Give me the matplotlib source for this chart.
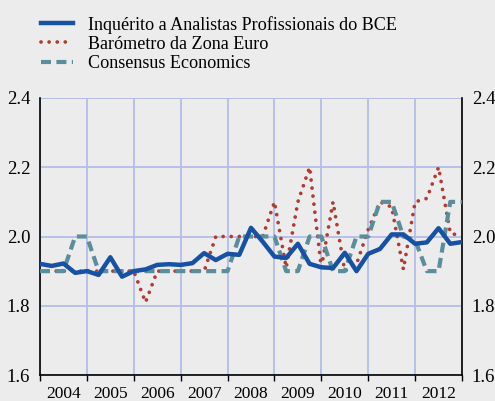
import numpy as np
import matplotlib
matplotlib.use('Agg')
import matplotlib.pyplot as plt

plt.rcParams['font.family'] = ['Liberation Serif', 'DejaVu Serif']

# quarterly observations, 2004 Q1 .. 2013 Q1
years = [2004, 2005, 2006, 2007, 2008, 2009, 2010, 2011, 2012]
spf = [1.921, 1.915, 1.922, 1.895, 1.900, 1.889, 1.940, 1.884, 1.900, 1.905,
       1.918, 1.920, 1.918, 1.923, 1.952, 1.932, 1.950, 1.947, 2.025, 1.985,
       1.942, 1.938, 1.979, 1.921, 1.911, 1.909, 1.953, 1.900, 1.950, 1.964,
       2.006, 2.006, 1.979, 1.983, 2.024, 1.979, 1.984]
barometer = [1.90, 1.90, 1.90, 1.90, 1.90, 1.90, 1.90, 1.90, 1.90, 1.81,
             1.90, 1.90, 1.90, 1.90, 1.90, 2.00, 2.00, 2.00, 2.00, 2.00,
             2.10, 1.91, 2.10, 2.20, 1.91, 2.10, 1.90, 1.92, 2.02, 2.10,
             2.085, 1.905, 2.10, 2.11, 2.20, 2.01, 2.00]
consensus = [1.90, 1.90, 1.90, 2.00, 2.00, 1.90, 1.90, 1.90, 1.90, 1.90,
             1.90, 1.90, 1.90, 1.90, 1.90, 1.90, 1.90, 2.00, 2.00, 2.00,
             2.00, 1.90, 1.90, 2.00, 2.00, 1.90, 1.90, 2.00, 2.00, 2.10,
             2.10, 2.00, 1.99, 1.90, 1.90, 2.10, 2.10]
labels = ['Inquérito a Analistas Profissionais do BCE',
          'Barómetro da Zona Euro',
          'Consensus Economics']
yticks = [1.6, 1.8, 2.0, 2.2, 2.4]

t = years[0] + np.arange(len(spf)) / 4.0

bg = '#ececec'
fig = plt.figure(figsize=(4.95, 4.01), dpi=100, facecolor=bg)
ax = fig.add_axes([40 / 495, 1 - 375 / 401, 422 / 495, 277 / 401], facecolor=bg)

l2, = ax.plot(t, barometer, color='#b23a2e', lw=2.7, linestyle=(0, (0.01, 2.15)),
              dash_capstyle='round', zorder=3)
l3, = ax.plot(t, consensus, color='#5a8e9c', lw=3.0, linestyle=(0, (2.4, 1.3)), zorder=4)
l1, = ax.plot(t, spf, color='#1651a3', lw=3.2, zorder=5)

ax.set_xlim(2004, 2013)
ax.set_ylim(1.6, 2.4)
ax.set_yticks(yticks)
ax.set_yticklabels(['%.1f' % v for v in yticks])
ax.tick_params(axis='y', length=0, labelleft=True, labelright=True,
               labelsize=13.5, pad=7)

ax.set_xticks(years + [2013])
ax.set_xticklabels([])
ax.set_xticks([y + 0.5 for y in years], minor=True)
ax.set_xticklabels([str(y) for y in years], minor=True)
ax.tick_params(axis='x', which='major', length=4, width=1, color='black', direction='out')
ax.tick_params(axis='x', which='minor', length=0, labelsize=12.5, pad=8)

ax.grid(True, which='major', color='#b3bde8', lw=1.3)
ax.set_axisbelow(True)
ax.spines['top'].set_visible(False)
for s in ['left', 'right', 'bottom']:
    ax.spines[s].set_color('black')
    ax.spines[s].set_linewidth(1.2)
ax.axhline(2.4, color='#b3bde8', lw=1.3, zorder=0.5)

leg = fig.legend([l1, l2, l3], labels, loc='upper left',
                 bbox_to_anchor=(28 / 495, 1 - 3 / 401), frameon=False,
                 fontsize=13.1, handlelength=1.75, handletextpad=0.85,
                 labelspacing=0.12, borderpad=0.2)

fig.savefig('out.png', dpi=100, facecolor=bg)
